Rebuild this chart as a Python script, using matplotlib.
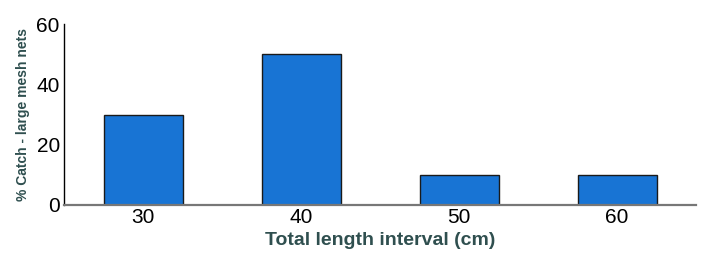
import matplotlib
matplotlib.use('Agg')
import matplotlib.pyplot as plt

plt.rcParams['font.family'] = ['Liberation Sans', 'DejaVu Sans']

categories = ['30', '40', '50', '60']
catch_pct = [30, 50, 10, 10]

fig = plt.figure(figsize=(7.2, 2.66), dpi=100)
ax = fig.add_axes([64 / 720, 61 / 266, 632 / 720, 181 / 266])

x = range(len(categories))
ax.bar(x, catch_pct, width=0.5, color='#1874d4', edgecolor='#1a1a1a', linewidth=1)

ax.set_xlim(-0.5, 3.5)
ax.set_ylim(0, 60)
ax.set_yticks([0, 20, 40, 60])
ax.set_xticks(list(x))
ax.set_xticklabels(categories)
ax.tick_params(length=0, labelsize=15, pad=3)
ax.tick_params(axis='x', pad=2)

for s in ['top', 'right']:
    ax.spines[s].set_visible(False)
ax.spines['left'].set_color('black')
ax.spines['left'].set_linewidth(1)
ax.spines['bottom'].set_color('#777777')
ax.spines['bottom'].set_linewidth(1.6)

ax.set_ylabel('% Catch - large mesh nets', fontsize=10, fontweight='bold',
              color='#2f4f4f', labelpad=5)
ax.set_xlabel('Total length interval (cm)', fontsize=14, fontweight='bold',
              color='#2f4f4f', labelpad=4)

fig.savefig('out.png', dpi=100)
plt.close(fig)
